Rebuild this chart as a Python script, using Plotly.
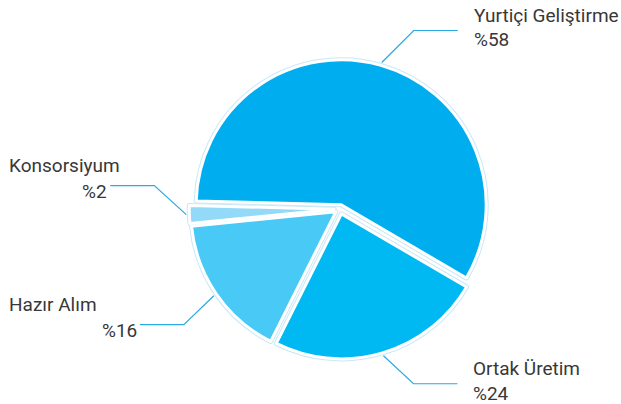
import math
import plotly.graph_objects as go

# ---- data ----
labels = ["Yurtiçi Geliştirme", "Ortak Üretim", "Hazır Alım", "Konsorsiyum"]
values = [58, 24, 16, 2]
pct_text = ["%58", "%24", "%16", "%2"]
colors = ["#00aeef", "#00b9f2", "#48c9f6", "#93d9f8"]
pulls = [0.03, 0.035, 0.035, 0.04]

# ---- layout geometry (pixels) ----
W, H = 621, 404
CX, CY = 340, 209
R = 145
ROT = -88.5  # start angle, degrees clockwise from 12 o'clock

maxp = max(pulls)
half = R * (1 + maxp)
dom_x = [(CX - half) / W, (CX + half) / W]
ymid = 1 - CY / H
dom_y = [ymid - half / H, ymid + half / H]

fig = go.Figure()
common = dict(labels=labels, values=values, sort=False, direction="clockwise",
              rotation=ROT, pull=pulls, textinfo="none", hoverinfo="label+percent",
              domain=dict(x=dom_x, y=dom_y), showlegend=False)
fig.add_trace(go.Pie(marker=dict(colors=colors, line=dict(color="#c9e8f8", width=5)), **common))
fig.add_trace(go.Pie(marker=dict(colors=colors, line=dict(color="#ffffff", width=3)), **common))

def px(x):
    return x / W

def py(y):
    return 1 - y / H

# label placement: leader offsets (dx, dy) and text side
label_cfg = [
    dict(diag=(32, -32), side="right"),
    dict(diag=(30, 28), side="right"),
    dict(diag=(-30, 29), side="left"),
    dict(diag=(-32, -29), side="left"),
]

total = sum(values)
start = 90 - ROT  # math angle (deg) of first slice start
acc = 0
shapes = []
annotations = []
line_col = "#2aaae2"
font = dict(family="Roboto, 'DejaVu Sans', sans-serif", size=19, color="#383838")
for i, v in enumerate(values):
    mid = start - (acc + v / 2) / total * 360
    acc += v
    a = math.radians(mid)
    rr = R * (1 + pulls[i]) + 3
    x0 = CX + rr * math.cos(a)
    y0 = CY - rr * math.sin(a)
    dx, dy = label_cfg[i]["diag"]
    x1 = x0 + dx
    y1 = y0 + dy
    x2 = x1 + (44 if dx > 0 else -44)
    path = f"M {px(x0)} {py(y0)} L {px(x1)} {py(y1)} L {px(x2)} {py(y1)}"
    shapes.append(dict(type="path", path=path, xref="paper", yref="paper",
                       line=dict(color=line_col, width=1.2)))
    if label_cfg[i]["side"] == "right":
        tx = x2 + 14
        annotations.append(dict(x=px(tx), y=py(y1 - 15), text=labels[i], xanchor="left",
                                yanchor="middle", showarrow=False, font=font,
                                xref="paper", yref="paper"))
        annotations.append(dict(x=px(tx), y=py(y1 + 9.5), text=pct_text[i], xanchor="left",
                                yanchor="middle", showarrow=False, font=font,
                                xref="paper", yref="paper"))
    else:
        annotations.append(dict(x=px(7), y=py(y1 - 20), text=labels[i], xanchor="left",
                                yanchor="middle", showarrow=False, font=font,
                                xref="paper", yref="paper"))
        annotations.append(dict(x=px(x2 - 1), y=py(y1 + 5.5), text=pct_text[i], xanchor="right",
                                yanchor="middle", showarrow=False, font=font,
                                xref="paper", yref="paper"))

fig.update_layout(width=W, height=H, margin=dict(l=0, r=0, t=0, b=0),
                  paper_bgcolor="white", plot_bgcolor="white",
                  shapes=shapes, annotations=annotations)
fig.write_html("out.html", config={"displayModeBar": False},
               post_script="document.body.style.margin='0px';")
